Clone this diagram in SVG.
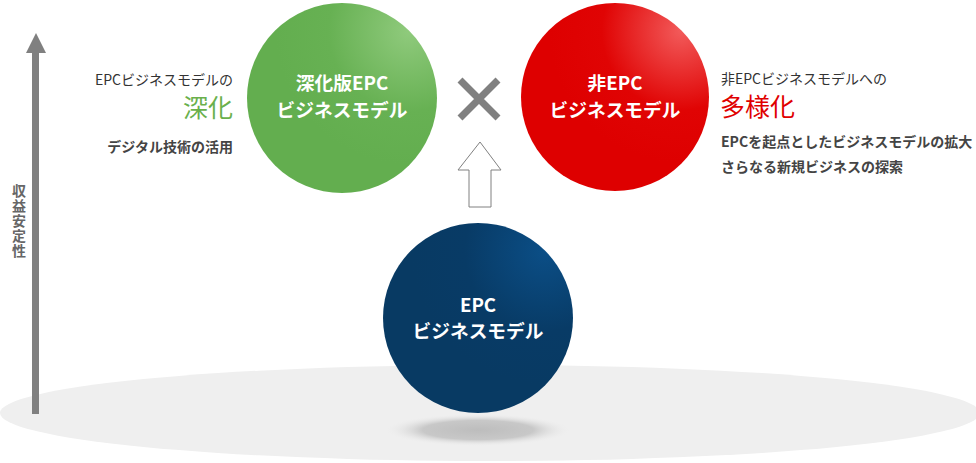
<svg xmlns="http://www.w3.org/2000/svg" width="976" height="463" viewBox="0 0 976 463">
<style>
text{font-family:"Noto Sans CJK JP","Noto Sans",sans-serif}
.ct{fill:#fff;font-weight:bold;font-size:18.7px;text-anchor:middle}
.sm{fill:#333;font-size:14px}
.bd{fill:#444;font-size:14px;font-weight:bold}
</style>
<defs>
<radialGradient id="gG" cx="0.85" cy="0.15" r="0.7"><stop offset="0" stop-color="#8fca7c"/><stop offset="0.6" stop-color="#67b153"/><stop offset="1" stop-color="#63ae4f"/></radialGradient>
<radialGradient id="gR" cx="0.85" cy="0.15" r="0.7"><stop offset="0" stop-color="#f25a5a"/><stop offset="0.6" stop-color="#e00404"/><stop offset="1" stop-color="#de0000"/></radialGradient>
<radialGradient id="gB" cx="0.85" cy="0.15" r="0.7"><stop offset="0" stop-color="#0b4e86"/><stop offset="0.6" stop-color="#083b66"/><stop offset="1" stop-color="#083a63"/></radialGradient>
<radialGradient id="sh" cx="0.5" cy="0.5" r="0.5"><stop offset="0" stop-color="#bdbdbd"/><stop offset="0.6" stop-color="#c8c8c8"/><stop offset="1" stop-color="#ececec" stop-opacity="0"/></radialGradient>
</defs>
<ellipse cx="490" cy="413" rx="490" ry="48" fill="#efefef"/>
<ellipse cx="478" cy="430" rx="92" ry="16" fill="url(#sh)"/>
<g id="axis">
<rect x="32" y="52" width="7" height="362" fill="#808080"/>
<polygon points="36,33 46,53 26,53" fill="#808080"/>
<text x="19" y="184" fill="#666" font-size="14" font-weight="bold" writing-mode="vertical-rl" letter-spacing="1">収益安定性</text>
</g>
<g id="connectors">
<path d="M460,80 L498,118 M498,80 L460,118" stroke="#808080" stroke-width="7"/>
<polygon points="480,142 501,170 491,170 491,207 469,207 469,170 458,170" fill="#fff" stroke="#808080" stroke-width="1"/>
</g>
<g id="green">
<circle cx="342" cy="98" r="95" fill="url(#gG)"/>
<text class="ct" x="342" y="90">深化版EPC</text>
<text class="ct" x="342" y="117">ビジネスモデル</text>
</g>
<g id="red">
<circle cx="615" cy="97" r="94" fill="url(#gR)"/>
<text class="ct" x="615" y="90">非EPC</text>
<text class="ct" x="615" y="117">ビジネスモデル</text>
</g>
<g id="blue">
<circle cx="478" cy="318" r="95" fill="url(#gB)"/>
<text class="ct" x="478" y="312">EPC</text>
<text class="ct" x="478" y="338">ビジネスモデル</text>
</g>
<g id="left-label" text-anchor="end">
<text class="sm" x="233" y="85">EPCビジネスモデルの</text>
<text x="233" y="117" font-size="25" fill="#6ab04c">深化</text>
<text class="bd" x="233" y="152">デジタル技術の活用</text>
</g>
<g id="right-label">
<text class="sm" x="721" y="84">非EPCビジネスモデルへの</text>
<text x="720" y="116" font-size="25" fill="#e00000">多様化</text>
<text class="bd" x="721" y="147">EPCを起点としたビジネスモデルの拡大</text>
<text class="bd" x="721" y="172">さらなる新規ビジネスの探索</text>
</g>
</svg>
